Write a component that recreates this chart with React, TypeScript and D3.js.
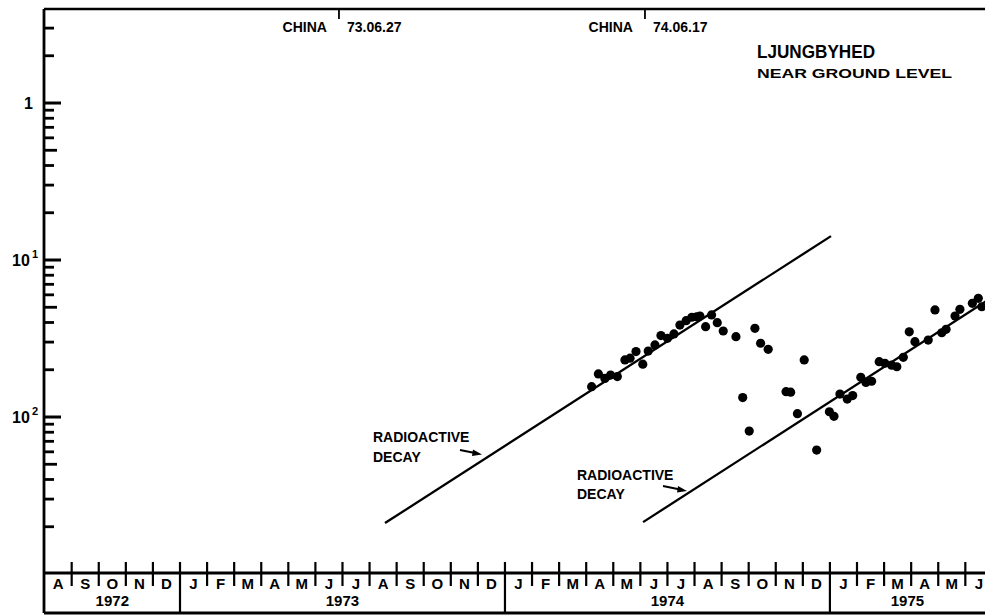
import React from "react";
import * as d3 from "d3";

// Month axis: Aug 1972 .. Jun 1975 (index 0 = Aug 1972)
const monthLabels = [
  "A", "S", "O", "N", "D",
  "J", "F", "M", "A", "M", "J", "J", "A", "S", "O", "N", "D",
  "J", "F", "M", "A", "M", "J", "J", "A", "S", "O", "N", "D",
  "J", "F", "M", "A", "M", "J",
];
const yearLabels = ["1972", "1973", "1974", "1975"];
const yearStarts = [0, 5, 17, 29];
const yearEnds = [5, 17, 29, 35];

// Y axis ticks (log)
const majorTicks = [1, 0.1, 0.01];
const majorTickLabels = ["1", "10", "10"];
const majorTickSup = ["", "1", "2"];
const minorTicks = [
  3, 2,
  0.9, 0.8, 0.7, 0.6, 0.5, 0.4, 0.3, 0.2,
  0.09, 0.08, 0.07, 0.06, 0.05, 0.04, 0.03, 0.02,
  0.009, 0.008, 0.007, 0.006, 0.005, 0.004, 0.003, 0.002,
];

// Measurements (month index, value)
const sampleMonth = [
  20.2, 20.45, 20.69, 20.9, 21.15, 21.43, 21.62, 21.84, 22.09, 22.29,
  22.54, 22.76, 23.0, 23.24, 23.46, 23.69, 23.9, 24.08, 24.2, 24.41,
  24.63, 24.84, 25.06, 25.53, 25.78, 26.02, 26.23, 26.44, 26.72, 27.38,
  27.55, 27.8, 28.05, 28.51, 28.98, 29.15, 29.37, 29.64, 29.84, 30.14,
  30.33, 30.54, 30.82, 31.03, 31.28, 31.47, 31.71, 31.93, 32.14, 32.63,
  32.88, 33.13, 33.29, 33.62, 33.8, 34.26, 34.48, 34.61,
];
const sampleValue = [
  0.0156, 0.0188, 0.0176, 0.0185, 0.0181, 0.0231, 0.0237, 0.0261, 0.0217, 0.0263,
  0.0288, 0.033, 0.0317, 0.0338, 0.0385, 0.0411, 0.0432, 0.0435, 0.044, 0.0376,
  0.0447, 0.0399, 0.0353, 0.0325, 0.0133, 0.00814, 0.0367, 0.0295, 0.027, 0.0145,
  0.0144, 0.0105, 0.0231, 0.00616, 0.0108, 0.0101, 0.014, 0.013, 0.0137, 0.0179,
  0.0166, 0.0169, 0.0225, 0.022, 0.0214, 0.0209, 0.024, 0.0349, 0.0302, 0.0309,
  0.0481, 0.0344, 0.0362, 0.044, 0.0485, 0.053, 0.057, 0.0504,
];

// Radioactive decay reference lines (start / end points)
const decay1Month = [12.57, 29.04];
const decay1Value = [0.00211, 0.142];
const decay2Month = [22.1, 35.0];
const decay2Value = [0.00214, 0.058];

// Events
const eventMonth = [10.87, 22.17];
const eventName = ["CHINA", "CHINA"];
const eventDate = ["73.06.27", "74.06.17"];

const W = 985;
const H = 616;
const FONT = "'Liberation Sans', Arial, Helvetica, sans-serif";

export default function App() {
  const x = d3.scaleLinear().domain([0, 35]).range([44.6, 44.6 + 35 * 27.08]);
  const y = d3.scaleLog().domain([0.001, 4]).range([574, 8.5]);
  const left = 44;
  const top = 9;
  const axisY = 573;
  const bottom = 613;

  const line = d3
    .line<[number, number]>()
    .x((d) => x(d[0]))
    .y((d) => y(d[1]));

  const minorLen = (v: number) => {
    const e = Math.floor(Math.log10(v) + 1e-9);
    const mant = Math.round(v / Math.pow(10, e));
    return mant === 5 ? 13 : 10;
  };

  return (
    <svg
      width={W}
      height={H}
      style={{ position: "absolute", left: 0, top: 0, background: "#fff" }}
      fontFamily={FONT}
      fontWeight={700}
    >
      <rect x={0} y={0} width={W} height={H} fill="#fff" />

      {/* y ticks */}
      <g stroke="#000" fill="none">
        {minorTicks.map((v, i) => (
          <rect key={"mt" + i} x={left} y={y(v) - 1.4} width={minorLen(v)} height={2.8} fill="#000" stroke="none" />
        ))}
        {majorTicks.map((v, i) => (
          <rect key={"Mt" + i} x={left} y={y(v) - 1.5} width={17} height={3} fill="#000" stroke="none" />
        ))}
      </g>

      {/* frame */}
      <line x1={left} x2={W} y1={top} y2={top} stroke="#000" strokeWidth={2.6} />
      <line x1={left} x2={left} y1={top} y2={bottom} stroke="#000" strokeWidth={2.8} />
      <line x1={left} x2={W} y1={axisY} y2={axisY} stroke="#000" strokeWidth={2.8} />
      <line x1={left} x2={W} y1={bottom} y2={bottom} stroke="#000" strokeWidth={2.8} />

      {/* y tick labels */}
      {majorTicks.map((t, i) => (
        <g key={"M" + i}>
          <text x={majorTickSup[i] ? 12 : 24} y={y(t) + 6} fontSize={16}>
            {majorTickLabels[i]}
          </text>
          {majorTickSup[i] && (
            <text x={32} y={y(t) - 2} fontSize={11}>
              {majorTickSup[i]}
            </text>
          )}
        </g>
      ))}

      {/* month ticks and labels */}
      {monthLabels.map((m, i) => (
        <g key={"mo" + i}>
          {i > 0 && (
            <line
              x1={x(i)}
              x2={x(i)}
              y1={562}
              y2={yearStarts.includes(i) ? bottom : 586}
              stroke="#000"
              strokeWidth={2.2}
            />
          )}
          <text x={x(i + 0.5)} y={589} fontSize={15} textAnchor="middle">
            {m}
          </text>
        </g>
      ))}
      {yearLabels.map((yl, i) => {
        const a = x(yearStarts[i]);
        const b = Math.min(x(yearEnds[i]), W);
        return (
          <text key={yl} x={(a + b) / 2} y={606} fontSize={15} textAnchor="middle">
            {yl}
          </text>
        );
      })}

      {/* events */}
      {eventMonth.map((m, i) => (
        <g key={"ev" + i}>
          <line x1={x(m)} x2={x(m)} y1={top} y2={19} stroke="#000" strokeWidth={1.8} />
          <text x={x(m) - 12} y={32} fontSize={14} textAnchor="end">
            {eventName[i]}
          </text>
          <text x={x(m) + 8} y={32} fontSize={14}>
            {eventDate[i]}
          </text>
        </g>
      ))}

      {/* title */}
      <text x={757} y={58} fontSize={18} textLength={118} lengthAdjust="spacingAndGlyphs">
        LJUNGBYHED
      </text>
      <text x={757} y={78} fontSize={13} textLength={195} lengthAdjust="spacingAndGlyphs">
        NEAR GROUND LEVEL
      </text>

      {/* decay lines */}
      <path
        d={line(decay1Month.map((m, i) => [m, decay1Value[i]]) as [number, number][]) || ""}
        stroke="#000"
        strokeWidth={2.3}
        fill="none"
      />
      <path
        d={line(decay2Month.map((m, i) => [m, decay2Value[i]]) as [number, number][]) || ""}
        stroke="#000"
        strokeWidth={2.3}
        fill="none"
      />

      {/* annotations */}
      <text x={373} y={442} fontSize={14}>RADIOACTIVE</text>
      <text x={373} y={462} fontSize={14}>DECAY</text>
      <line x1={460} y1={450} x2={475} y2={453} stroke="#000" strokeWidth={2} />
      <path d="M482,454.5 L473,449.5 L472,456 Z" fill="#000" />

      <text x={577} y={480} fontSize={14}>RADIOACTIVE</text>
      <text x={577} y={499} fontSize={14}>DECAY</text>
      <line x1={663} y1={486} x2={680} y2={489.5} stroke="#000" strokeWidth={2} />
      <path d="M687,491 L678,486 L677,492.5 Z" fill="#000" />

      {/* data points */}
      {sampleMonth.map((m, i) => (
        <circle key={"p" + i} cx={x(m)} cy={y(sampleValue[i])} r={4.6} fill="#000" />
      ))}
    </svg>
  );
}
